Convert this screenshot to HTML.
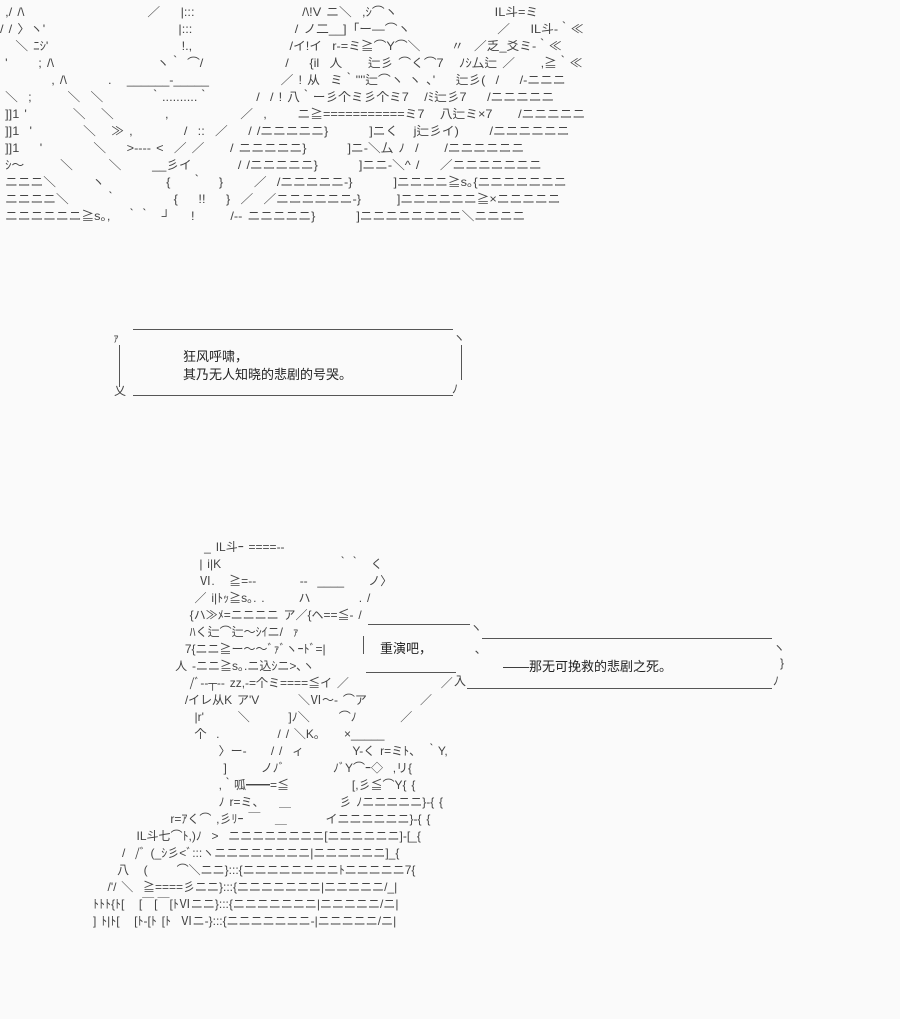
<!DOCTYPE html>
<html><head><meta charset="utf-8"><style>
html,body{margin:0;padding:0;background:#fafafa;width:900px;height:1019px;overflow:hidden;position:relative}
.a{position:absolute;white-space:pre;font-family:"Liberation Sans","Noto Sans CJK JP",sans-serif;font-size:12px;line-height:17px;color:#444;word-spacing:1.5px}
.t{position:absolute;white-space:pre;font-family:"Liberation Sans","Noto Sans CJK SC",sans-serif;font-size:13px;color:#222}
.l{position:absolute;background:#555;height:1px}
.v{position:absolute;background:#555;width:1px}
</style></head><body>
<div class="a" style="left:0;top:-13px;transform:scaleX(1.06);transform-origin:0 0">
 ,/ /\                        ／    |:::                     /\!V ニ＼  ,ｼ⌒ヽ                   IL斗=ミ
/ / 〉ヽ'                          |:::                    / ノ二__]「ー―⌒ヽ                 ／    IL斗-｀≪
   ＼ ﾆｼ'                          !.,                   /イ!イ  r-=ミ≧⌒Y⌒＼      〃  ／乏_爻ミ-｀≪
 '      ; /\                    ヽ｀ ⌒/                /    {il  人     辷彡 ⌒く⌒7   ﾉｼ厶辷 ／     ,≧｀≪
          , /\        .   ______-_____              ／ ! 从  ミ｀''''辷⌒ヽ ヽ ､'    辷彡(  /    /-ニニニ
 ＼  ;       ＼  ＼         ｀..........｀         /  / ! 八｀ー彡个ミ彡个ミ7   /ﾐ辷彡7    /ニニニニニ
 ]]1 '         ＼   ＼          ,              ／  ,      ニ≧===========ミ7   八辷ミ×7     /ニニニニニ
 ]]1  '          ＼   ≫ ,          /  ::  ／    / /ニニニニニ}        ]ニく   j辷彡イ)      /ニニニニニニ
 ]]1    '          ＼    >---- <  ／ ／     / ニニニニニ}        ]ニ-＼厶 ﾉ  /     /ニニニニニニ
 ｼ〜       ＼       ＼      __彡イ         / /ニニニニニ}        ]ニニ-＼^ /    ／ニニニニニニニ
 ニニニ＼       ヽ            {    ｀   }      ／  /ニニニニニ-}        ]ニニニニ≧s｡{ニニニニニニニ
 ニニニニ＼       ｀           {    !!    }  ／  ／ニニニニニニ-}       ]ニニニニニニ≧×ニニニニニ
 ニニニニニニ≧s｡,   ｀｀  ┘    !       /-- ニニニニニ}        ]ニニニニニニニニ＼ニニニニ</div>

<div class="l" style="left:133px;top:329px;width:320px"></div>
<div class="l" style="left:133px;top:395px;width:320px"></div>
<div class="v" style="left:119px;top:345px;height:42px"></div>
<div class="v" style="left:461px;top:345px;height:35px"></div>
<div class="a" style="left:113px;top:330px">ｧ</div>
<div class="a" style="left:453px;top:330px">ヽ</div>
<div class="a" style="left:114px;top:383px">乂</div>
<div class="a" style="left:452px;top:381px">ﾉ</div>
<div class="t" style="left:183px;top:346px">狂风呼啸，</div>
<div class="t" style="left:183px;top:364px">其乃无人知晓的悲剧的号哭。</div>

<div class="a" style="left:93px;top:522px">
                       _ IL斗ｰ ====--
                      | i|K                        ｀｀  く
                      Ⅵ.   ≧=--         --  ____     ノ〉
                     ／ i|ﾄｯ≧s｡. .       ハ          . /
                    {ハ≫ﾒ=ニニニニ ア／{ヘ==≦- /
                    ﾊく辷⌒辷〜ｼｲニ/  ｧ
                   7{ニニ≧ー〜〜ﾞｧﾞヽｰﾄﾞ=|
                 人 -ニニ≧s｡.ニ込ｼニ>､ヽ
                    /ﾞ--┬-- zz,-=个ミ====≦イ ／                   ／
                   /イレ从K ア'V        ＼Ⅵ〜- ⌒ア           ／
                     |r'       ＼        ]ﾉ＼      ⌒ﾉ         ／
                     个  .            / / ＼K｡     ×_____
                          〉ー-     / /  ィ          Y-く r=ミﾄ、 ｀Y,
                           ]       ノﾉﾞ          ﾉﾞY⌒ｰ◇  ,リ{
                          ,｀呱━━=≦             [,彡≦⌒Y{ {
                          ﾉ r=ミ、   ＿          彡 ﾉニニニニニ}-{ {
                r=ｱく⌒ ,彡ﾘｰ ￣   ＿        イニニニニニニ}-{ {
         IL斗七⌒ﾄ,)ﾉ  >  ニニニニニニニニ[ニニニニニニ]-[_{
      /  /ﾞ (_ｼ彡<ﾞ:::ヽニニニニニニニニ|ニニニニニニ]_{
     八   (      ⌒＼ニニ}:::{ニニニニニニニニﾄニニニニニ7{
   /'/ ＼  ≧====彡ニニ}:::{ニニニニニニニ|ニニニニニ/_|
ﾄﾄﾄ{ﾄ[   [￣[￣[ﾄⅥニニ}:::{ニニニニニニニ|ニニニニニ/ニ|
] ﾄ|ﾄ[   [ﾄ-[ﾄ [ﾄ  Ⅵニ-}:::{ニニニニニニニ-|ニニニニニ/ニ|</div>

<!-- bubble 2 -->
<div class="l" style="left:368px;top:624px;width:102px"></div>
<div class="l" style="left:366px;top:672px;width:90px"></div>
<div class="v" style="left:363px;top:636px;height:18px"></div>
<div class="a" style="left:470px;top:620px">ヽ</div>
<div class="t" style="left:380px;top:638px">重演吧，</div>
<!-- bubble 3 -->
<div class="l" style="left:482px;top:638px;width:290px"></div>
<div class="l" style="left:467px;top:688px;width:305px"></div>
<div class="a" style="left:454px;top:673px">入</div>
<div class="a" style="left:475px;top:641px">､</div>
<div class="a" style="left:773px;top:640px">ヽ</div>
<div class="a" style="left:773px;top:673px">ﾉ</div>
<div class="a" style="left:780px;top:655px">}</div>
<div class="t" style="left:503px;top:656px">——那无可挽救的悲剧之死。</div>
</body></html>
